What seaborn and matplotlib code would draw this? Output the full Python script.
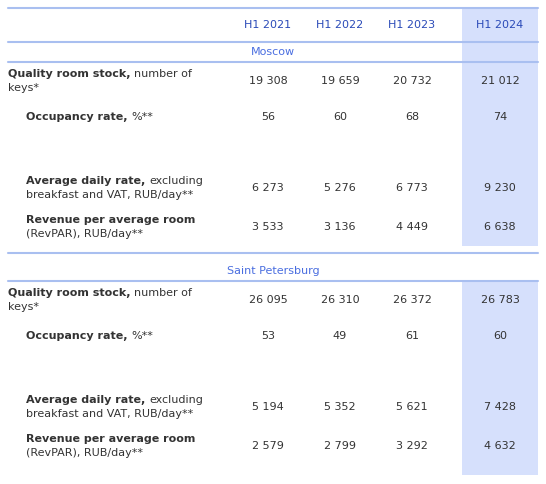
import matplotlib
matplotlib.use("Agg")
import matplotlib.pyplot as plt
import seaborn as sns

years = ["H1 2021", "H1 2022", "H1 2023", "H1 2024"]
cities = ["Moscow", "Saint Petersburg"]
row_bold = ["Quality room stock,", "Occupancy rate,", "Average daily rate,", "Revenue per average room"]
row_rest = [["number of", "keys*"], ["%**"], ["excluding", "breakfast and VAT, RUB/day**"],
            ["", "(RevPAR), RUB/day**"]]
moscow = ["19 308", "19 659", "20 732", "21 012",
          "56", "60", "68", "74",
          "6 273", "5 276", "6 773", "9 230",
          "3 533", "3 136", "4 449", "6 638"]
spb = ["26 095", "26 310", "26 372", "26 783",
       "53", "49", "61", "60",
       "5 194", "5 352", "5 621", "7 428",
       "2 579", "2 799", "3 292", "4 632"]

sns.set_theme(style="white")
plt.rcParams['font.family'] = ['DejaVu Sans']
fig = plt.figure(figsize=(5.46, 4.84), dpi=100)
ax = fig.add_axes([0, 0, 1, 1])
ax.set_xlim(0, 546)
ax.set_ylim(484, 0)
ax.axis("off")

dark = "#333333"
line_c = "#a9bff0"
hl = "#d6e0fc"
col_x = [268, 340, 412, 500]
fs = 8

# highlight column
ax.fill_between([462, 538], 8, 246, color=hl, lw=0)
ax.fill_between([462, 538], 281, 475, color=hl, lw=0)

for y in [8, 42, 62, 253, 281]:
    ax.plot([8, 538], [y, y], color=line_c, lw=1.5)

for x, yr in zip(col_x, years):
    ax.text(x, 25, yr, ha="center", va="center", color="#2a4ab8", fontsize=fs)

renderer = fig.canvas.get_renderer()
row_offsets = [0, 36, 107, 146]

def draw_block(top, city, vals):
    ax.text(273, top - 10, city, ha="center", va="center", color="#4a6ee0", fontsize=fs)
    for i in range(4):
        y0 = top + row_offsets[i]
        indent = 8 if i == 0 else 26
        lines = row_rest[i]
        two = len(lines) == 2
        yb = y0 + 12 if two else y0 + 19
        t = ax.text(indent, yb, row_bold[i], ha="left", va="center", color=dark,
                    fontsize=fs, fontweight="bold")
        bb = t.get_window_extent(renderer)
        if lines[0]:
            ax.text(indent + bb.width + 4, yb, lines[0], ha="left", va="center",
                    color=dark, fontsize=fs)
        if two:
            ax.text(indent, yb + 14, lines[1], ha="left", va="center", color=dark, fontsize=fs)
        yv = yb + 7 if two else yb
        for j in range(4):
            ax.text(col_x[j], yv, vals[i * 4 + j], ha="center", va="center", color=dark, fontsize=fs)

draw_block(62, cities[0], moscow)
draw_block(281, cities[1], spb)

fig.savefig("out.png", dpi=100)
